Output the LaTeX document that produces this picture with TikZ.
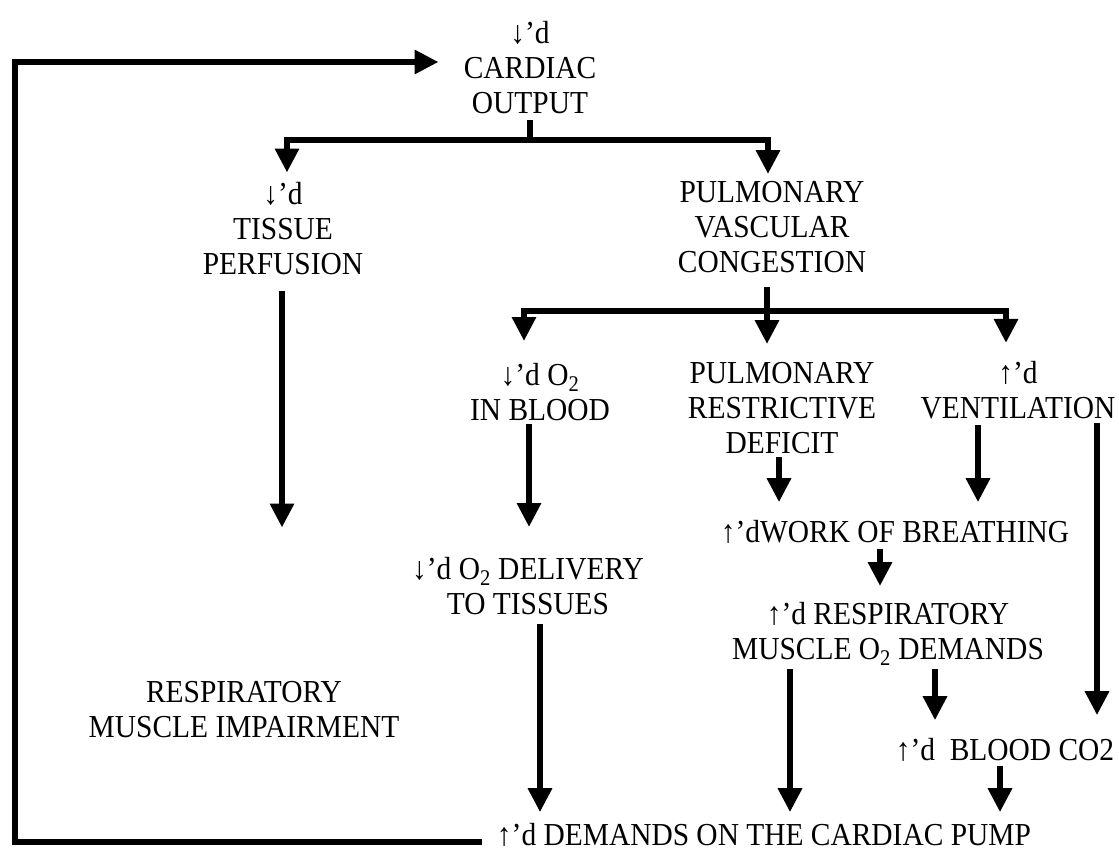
\documentclass[tikz,border=0pt]{standalone}
\usepackage{fontspec}
\setmainfont{Liberation Serif}[FakeStretch=0.92]
\usetikzlibrary{arrows.meta}
\begin{document}
\begin{tikzpicture}[x=1pt,y=-1pt,
  txt/.style={inner sep=0pt, align=center, font=\fontsize{32}{35}\selectfont},
  ln/.style={line width=6pt},
  arr/.style={line width=6pt, -{Triangle[length=24pt,width=23pt]}}]
\useasboundingbox (0,0) rectangle (1119,851);
% nodes
\node[txt] (co)    at (530,68)  {↓’d\\CARDIAC\\OUTPUT};
\node[txt] (tp)    at (283,229) {↓’d\\TISSUE\\PERFUSION};
\node[txt] (pvc)   at (772,227) {PULMONARY\\VASCULAR\\CONGESTION};
\node[txt] (o2)    at (540,392) {↓’d O\textsubscript{2}\\IN BLOOD};
\node[txt] (prd)   at (782,408) {PULMONARY\\RESTRICTIVE\\DEFICIT};
\node[txt] (vent)  at (1018,390) {↑’d\\VENTILATION};
\node[txt] (wob)   at (895,532) {↑’dWORK OF BREATHING};
\node[txt] (rmod)  at (888,634) {↑’d RESPIRATORY\\MUSCLE O\textsubscript{2} DEMANDS};
\node[txt] (deliv) at (528,586) {↓’d O\textsubscript{2} DELIVERY\\TO TISSUES};
\node[txt] (rmi)   at (244,710) {RESPIRATORY\\MUSCLE IMPAIRMENT};
\node[txt] (co2)   at (1005,750) {↑’d\ \ BLOOD CO2};
\node[txt] (dem)   at (764,835) {↑’d DEMANDS ON THE CARDIAC PUMP};
% branch points
\coordinate (br1) at (530,140);
\coordinate (br2) at (767,311);
\coordinate (fb)  at (15,450);
% connectors
\draw[ln] ([yshift=-6pt]co.south) -- (co.south |- br1);
\draw[arr] (br1) -| ([xshift=4pt,yshift=10pt]tp.north);
\draw[arr] (br1) -| ([xshift=-4pt,yshift=7pt]pvc.north);
\draw[arr] ([xshift=-1pt,yshift=-16pt]tp.south) -- ([xshift=38pt,yshift=154pt]rmi.north);
\draw[ln] ([xshift=-5pt,yshift=-14pt]pvc.south) -- (br2);
\draw[arr] (br2) -| ([xshift=-16pt,yshift=22pt]o2.north);
\draw[arr] (br2) -- ([xshift=-15pt,yshift=18pt]prd.north);
\draw[arr] (br2) -| ([xshift=-12pt,yshift=18pt]vent.north);
\draw[arr] ([xshift=-11pt,yshift=-3pt]o2.south) -- ([xshift=1pt,yshift=30pt]deliv.north);
\draw[arr] ([xshift=-3pt,yshift=-3pt]prd.south) -- ([xshift=-116pt,yshift=18pt]wob.north);
\draw[arr] ([xshift=-40pt,yshift=-6pt]vent.south) -- ([xshift=83pt,yshift=18pt]wob.north);
\draw[arr] ([xshift=79pt,yshift=-4pt]vent.south) -- ([xshift=92pt,yshift=23pt]co2.north);
\draw[arr] ([xshift=-15pt,yshift=-5pt]wob.south) -- ([xshift=-8pt,yshift=16pt]rmod.north);
\draw[arr] ([xshift=-98pt,yshift=-3pt]rmod.south) -- ([xshift=26pt,yshift=11pt]dem.north);
\draw[arr] ([xshift=47pt,yshift=-3pt]rmod.south) -- ([xshift=-70pt,yshift=18pt]co2.north);
\draw[arr] ([xshift=12pt,yshift=-9pt]deliv.south) -- ([xshift=-224pt,yshift=11pt]dem.north);
\draw[arr] ([xshift=-5pt,yshift=-4pt]co2.south) -- ([xshift=236pt,yshift=11pt]dem.north);
\draw[arr] ([xshift=-15pt,yshift=-7pt]dem.west) -| (fb) |- ([xshift=-25pt,yshift=6pt]co.west);
\end{tikzpicture}
\end{document}
